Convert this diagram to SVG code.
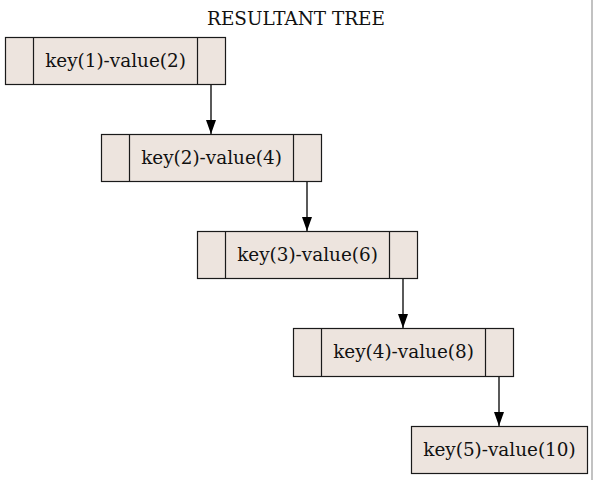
<svg xmlns="http://www.w3.org/2000/svg" width="593" height="480" viewBox="0 0 593 480">
<style>
.box{fill:#ede4de;stroke:#1a1a1a;stroke-width:1.2}
.div{stroke:#1a1a1a;stroke-width:1.2}
text{font-family:"DejaVu Serif",serif;font-size:18.4px;fill:#111;text-anchor:middle}
.edge{stroke:#000;stroke-width:1.3;fill:none}
</style>
<defs>
<marker id="arr" markerWidth="15" markerHeight="12" refX="14" refY="5" orient="auto" markerUnits="userSpaceOnUse">
<path d="M0,0 L14,5 L0,10 Z" fill="#000"/>
</marker>
</defs>
<rect x="0" y="0" width="593" height="480" fill="#fff"/>
<line x1="592" y1="0" x2="592" y2="480" stroke="#999" stroke-width="1.2"/>
<text x="296" y="25">RESULTANT TREE</text>
<g id="connectors">
<line class="edge" x1="211" y1="84" x2="211" y2="134" marker-end="url(#arr)"/>
<line class="edge" x1="307" y1="181" x2="307" y2="231" marker-end="url(#arr)"/>
<line class="edge" x1="403" y1="278" x2="403" y2="328" marker-end="url(#arr)"/>
<line class="edge" x1="499" y1="376" x2="499" y2="426" marker-end="url(#arr)"/>
</g>
<g id="node1">
<rect class="box" x="5.5" y="37.5" width="220" height="47"/>
<line class="div" x1="33.5" y1="37.5" x2="33.5" y2="84.5"/>
<line class="div" x1="197.5" y1="37.5" x2="197.5" y2="84.5"/>
<text x="115.5" y="67">key(1)-value(2)</text>
</g>
<g id="node2">
<rect class="box" x="101.5" y="134.5" width="220" height="47"/>
<line class="div" x1="129.5" y1="134.5" x2="129.5" y2="181.5"/>
<line class="div" x1="293.5" y1="134.5" x2="293.5" y2="181.5"/>
<text x="211.5" y="164">key(2)-value(4)</text>
</g>
<g id="node3">
<rect class="box" x="197.5" y="231.5" width="220" height="47"/>
<line class="div" x1="225.5" y1="231.5" x2="225.5" y2="278.5"/>
<line class="div" x1="389.5" y1="231.5" x2="389.5" y2="278.5"/>
<text x="307.5" y="261">key(3)-value(6)</text>
</g>
<g id="node4">
<rect class="box" x="293.5" y="328.5" width="220" height="48"/>
<line class="div" x1="321.5" y1="328.5" x2="321.5" y2="376.5"/>
<line class="div" x1="485.5" y1="328.5" x2="485.5" y2="376.5"/>
<text x="403.5" y="358">key(4)-value(8)</text>
</g>
<g id="node5">
<rect class="box" x="411.5" y="426.5" width="176" height="47"/>
<text x="499.5" y="456">key(5)-value(10)</text>
</g>
</svg>
